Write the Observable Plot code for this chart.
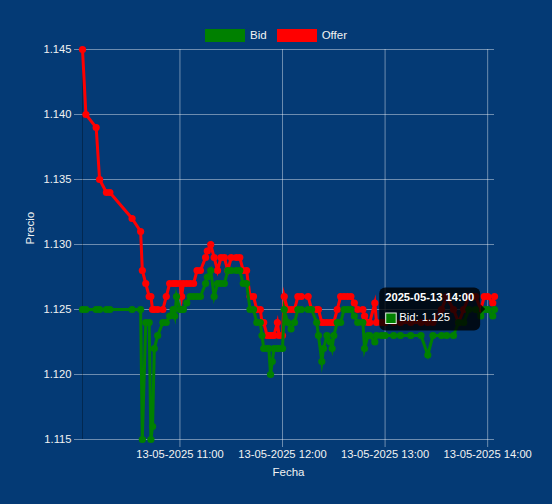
<!DOCTYPE html>
<html>
<head>
<meta charset="utf-8">
<script src="https://cdn.jsdelivr.net/npm/d3@7"></script>
<script src="https://cdn.jsdelivr.net/npm/@observablehq/plot@0.6"></script>
<style>
  html, body { margin: 0; padding: 0; background: #043a75; }
  #wrap { position: relative; width: 552px; height: 504px; background: #043a75; overflow: hidden;
          font-family: "Liberation Sans", Arial, Helvetica, sans-serif; }
  #legend { position: absolute; top: 28px; left: 0; width: 552px; display: flex; justify-content: center;
            align-items: center; font-size: 11.5px; color: #f2f2f2; line-height: 14px; }
  #legend .item { display: flex; align-items: center; margin: 0 5px; }
  #legend .box { width: 40px; height: 13px; margin-right: 5px; box-sizing: border-box; }
  #wrap svg { position: absolute; top: 0; left: 0; }
</style>
</head>
<body>
<div id="wrap"><div id="legend"></div></div>
<script>
// ---- data ----
const dayParts = [2025, 5, 13];
const times = ["10:03","10:05","10:11","10:13","10:17","10:19","10:32","10:37","10:38","10:40",
  "10:42","10:43","10:44","10:45","10:47","10:50","10:52","10:54","10:56","10:57",
  "10:58","11:00","11:01","11:02","11:04","11:06","11:08","11:10","11:12","11:15",
  "11:16","11:18","11:20","11:22","11:24","11:26","11:28","11:30","11:33","11:35",
  "11:37","11:39","11:41","11:43","11:45","11:47","11:48","11:49","11:51","11:52",
  "11:53","11:54","11:55","11:57","11:58","12:00","12:01","12:03","12:05","12:07",
  "12:09","12:11","12:15","12:17","12:20","12:21","12:23","12:24","12:26","12:28",
  "12:29","12:30","12:32","12:34","12:36","12:38","12:40","12:42","12:44","12:47",
  "12:48","12:50","12:51","12:54","12:55","12:58","13:00","13:05","13:09","13:15",
  "13:21","13:25","13:28","13:33","13:36","13:40","13:43","13:46","13:49","13:53",
  "13:56","13:58","14:00","14:03","14:04"];
const bid = [1.125,1.125,1.125,1.125,1.125,1.125,1.125,1.125,1.115,1.124,
  1.124,1.115,1.116,1.122,1.123,1.124,1.124,1.1245,1.125,1.1245,
  1.126,1.125,1.125,1.125,1.1255,1.126,1.126,1.126,1.126,1.127,
  1.1275,1.128,1.126,1.127,1.127,1.127,1.128,1.128,1.128,1.128,
  1.127,1.127,1.125,1.125,1.124,1.124,1.123,1.122,1.122,1.122,
  1.120,1.121,1.122,1.122,1.122,1.122,1.125,1.124,1.1235,1.124,
  1.125,1.125,1.125,1.125,1.124,1.123,1.121,1.122,1.123,1.1225,
  1.122,1.123,1.124,1.124,1.125,1.125,1.125,1.1245,1.124,1.124,
  1.122,1.123,1.123,1.1225,1.123,1.123,1.123,1.123,1.123,1.123,
  1.123,1.1215,1.123,1.123,1.123,1.123,1.124,1.124,1.125,1.125,
  1.1245,1.125,1.125,1.1245,1.125];
const offer = [1.145,1.140,1.139,1.135,1.134,1.134,1.132,1.131,1.128,1.127,
  1.126,1.126,1.125,1.125,1.125,1.125,1.126,1.127,1.127,1.127,
  1.127,1.127,1.126,1.127,1.127,1.127,1.127,1.128,1.128,1.129,
  1.1295,1.130,1.129,1.128,1.129,1.129,1.128,1.129,1.129,1.129,
  1.128,1.128,1.126,1.126,1.125,1.125,1.124,1.124,1.123,1.123,
  1.123,1.123,1.123,1.124,1.123,1.123,1.126,1.125,1.125,1.125,
  1.126,1.126,1.126,1.125,1.125,1.125,1.124,1.124,1.124,1.124,
  1.124,1.124,1.125,1.126,1.126,1.126,1.126,1.1255,1.125,1.125,
  1.1245,1.124,1.124,1.1255,1.124,1.124,1.124,1.124,1.124,1.124,
  1.124,1.124,1.124,1.125,1.126,1.125,1.124,1.125,1.126,1.126,
  1.125,1.126,1.126,1.1255,1.126];
const seriesNames = ["Bid", "Offer"];
const seriesColors = ["#008000", "#ff0000"];
const yTicks = [1.115, 1.120, 1.125, 1.130, 1.135, 1.140, 1.145];
const xTickTimes = ["11:00", "12:00", "13:00", "14:00"];
const xLabel = "Fecha";
const yLabel = "Precio";
const tooltipTime = "14:00";
const tooltipSeries = "Bid";

// ---- build ----
const parse = s => { const [h, m] = s.split(":").map(Number); return new Date(dayParts[0], dayParts[1] - 1, dayParts[2], h, m); };
const dates = times.map(parse);
const bidRows = times.map((t, i) => ({date: dates[i], value: bid[i]}));
const offerRows = times.map((t, i) => ({date: dates[i], value: offer[i]}));
const xTicks = xTickTimes.map(parse);
const font = '"Liberation Sans", Arial, Helvetica, sans-serif';
const gridColor = "#ffffff", gridOpacity = 0.42, textColor = "#f2f2f2";
const tickFont = 11.2;

// legend
const legend = document.getElementById("legend");
seriesNames.forEach((name, i) => {
  const item = document.createElement("div"); item.className = "item";
  const box = document.createElement("div"); box.className = "box"; box.style.background = seriesColors[i];
  const lab = document.createElement("span"); lab.textContent = name;
  item.appendChild(box); item.appendChild(lab); legend.appendChild(item);
});

const lineOpts = (color) => ({x: "date", y: "value", stroke: color, strokeWidth: 3,
  strokeLinejoin: "miter", strokeMiterlimit: 10, strokeLinecap: "butt"});
const dotOpts = (color) => ({x: "date", y: "value", fill: color, r: 3.6});

const plot = Plot.plot({
  width: 552, height: 504,
  marginLeft: 82, marginRight: 58, marginTop: 49, marginBottom: 65,
  style: {background: "transparent", color: textColor, fontFamily: font, fontSize: tickFont + "px", overflow: "visible"},
  x: {type: "time", domain: d3.extent(dates)},
  y: {domain: [yTicks[0], yTicks[yTicks.length - 1]]},
  marks: [
    Plot.gridY(yTicks, {stroke: gridColor, strokeOpacity: gridOpacity}),
    Plot.gridX(xTicks, {stroke: gridColor, strokeOpacity: gridOpacity}),
    Plot.axisY(yTicks, {tickSize: 8, tickPadding: 3, tickFormat: d3.format(".3f"), stroke: gridColor,
      strokeOpacity: gridOpacity, fill: textColor, label: null, fontSize: tickFont}),
    Plot.axisX(xTicks, {tickSize: 8, tickPadding: 3, tickFormat: d3.timeFormat("%d-%m-%Y %H:%M"), stroke: gridColor,
      strokeOpacity: gridOpacity, fill: textColor, label: null, fontSize: tickFont}),
    Plot.ruleX([dates[0]], {stroke: "#000", strokeOpacity: 0.3}),
    Plot.text([yLabel], {frameAnchor: "left", rotate: -90, dx: -52, fill: textColor, fontSize: 11.5}),
    Plot.text([xLabel], {frameAnchor: "bottom", dy: 36, fill: textColor, fontSize: 11.5}),
    Plot.line(offerRows, lineOpts(seriesColors[1])),
    Plot.dot(offerRows, dotOpts(seriesColors[1])),
    Plot.line(bidRows, lineOpts(seriesColors[0])),
    Plot.dot(bidRows, dotOpts(seriesColors[0]))
  ]
});
document.getElementById("wrap").appendChild(plot);

// tooltip (Chart.js style), anchored through the plot's scales
const sx = plot.scale("x"), sy = plot.scale("y");
const ti = times.indexOf(tooltipTime);
const si = seriesNames.indexOf(tooltipSeries);
const tVal = (si === 0 ? bid : offer)[ti];
const px = sx.apply(dates[ti]), py = sy.apply(tVal);
const g = d3.select(plot).append("g").attr("font-family", font).attr("font-size", 11.3).attr("text-anchor", "start");
const bg = g.append("rect");
const caret = g.append("path");
const title = g.append("text").attr("font-weight", "bold").attr("fill", "#fff").attr("font-size", 11.2)
  .attr("dominant-baseline", "middle").text(d3.timeFormat("%Y-%m-%d %H:%M")(dates[ti]));
const cbox = g.append("rect").attr("width", 10.5).attr("height", 10.5)
  .attr("fill", seriesColors[si]).attr("stroke", "#e6f2e6").attr("stroke-width", 1);
const body = g.append("text").attr("fill", "#fff").attr("dominant-baseline", "middle")
  .text(tooltipSeries + ": " + d3.format(".3f")(tVal));
const pad = 6, caretSize = 5, caretPad = 2;
const w = Math.max(title.node().getComputedTextLength(), body.node().getComputedTextLength() + 14) + pad * 2;
const h = 43;
const bx = px - caretPad - caretSize - w, by = py - h / 2;
bg.attr("x", bx).attr("y", by).attr("width", w).attr("height", h).attr("rx", 6).attr("fill", "rgba(0,0,0,0.8)");
caret.attr("d", `M${bx + w},${py - caretSize}L${bx + w + caretSize},${py}L${bx + w},${py + caretSize}Z`).attr("fill", "rgba(0,0,0,0.8)");
title.attr("x", bx + pad).attr("y", by + 10.5);
cbox.attr("x", bx + pad + 0.5).attr("y", by + 25.5);
body.attr("x", bx + pad + 14).attr("y", by + 31);
</script>
</body>
</html>
